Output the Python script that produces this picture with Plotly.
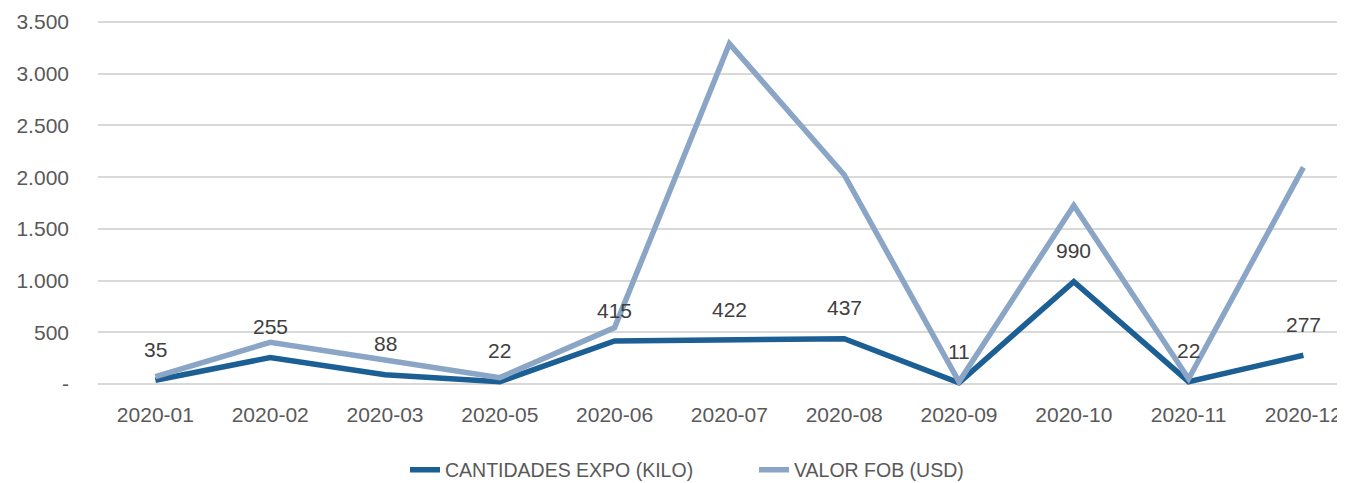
import plotly.graph_objects as go

categories = ["2020-01", "2020-02", "2020-03", "2020-05", "2020-06", "2020-07",
              "2020-08", "2020-09", "2020-10", "2020-11", "2020-12"]
cantidades_kilo = [35, 255, 88, 22, 415, 422, 437, 11, 990, 22, 277]
valor_fob_usd = [71, 403, 232, 61, 545, 3290, 2023, 20, 1726, 50, 2094]
y_tick_values = [0, 500, 1000, 1500, 2000, 2500, 3000, 3500]
y_tick_labels = ["-", "500", "1.000", "1.500", "2.000", "2.500", "3.000", "3.500"]

DARK = "#1C5F94"
LIGHT = "#8AA5C6"
FONT = "Liberation Sans, Arial, sans-serif"

# page body has an 8px default margin; the plot area runs past the right edge
# of the window, as in the reference chart
FIG_W, FIG_H = 1345, 475
plot_left = 90
band = 114.8
x_max = -0.5 + (FIG_W - plot_left) / band

fig = go.Figure()
fig.add_trace(go.Scatter(
    x=list(range(len(categories))), y=cantidades_kilo, mode="lines",
    name="CANTIDADES EXPO (KILO)", line=dict(color=DARK, width=5.5),
    hoverinfo="skip"))
fig.add_trace(go.Scatter(
    x=list(range(len(categories))), y=valor_fob_usd, mode="lines",
    name="VALOR FOB (USD)", line=dict(color=LIGHT, width=5.5),
    hoverinfo="skip"))

for i, v in enumerate(cantidades_kilo):
    fig.add_annotation(x=i, y=v, text=f"{v:,}".replace(",", "."),
                       showarrow=False, yshift=31,
                       font=dict(family=FONT, size=21, color="#404040"))

fig.update_layout(
    width=FIG_W, height=FIG_H,
    margin=dict(l=plot_left, r=0, t=12, b=97, autoexpand=False),
    paper_bgcolor="white", plot_bgcolor="white",
    font=dict(family=FONT, size=21, color="#595959"),
    showlegend=True,
    legend=dict(orientation="h", x=(397 - plot_left) / (FIG_W - plot_left),
                xanchor="left", y=-0.2295, yanchor="middle",
                entrywidth=304, entrywidthmode="pixels",
                font=dict(family=FONT, size=19.5, color="#595959"),
                itemwidth=30, bgcolor="rgba(0,0,0,0)"),
    xaxis=dict(range=[-0.5, x_max], tickmode="array",
               tickvals=list(range(len(categories))), ticktext=categories,
               showgrid=False, zeroline=False, showline=False, automargin=False,
               ticks="", ticklabelstandoff=14, ticklabeloverflow="allow",
               tickfont=dict(family=FONT, size=21, color="#595959")),
    yaxis=dict(range=[-20, 3520], tickmode="array", tickvals=y_tick_values,
               ticktext=y_tick_labels, showgrid=True, gridcolor="#D9D9D9",
               gridwidth=1.5, zeroline=False, showline=False, ticks="",
               automargin=False, ticklabelstandoff=28,
               tickfont=dict(family=FONT, size=21, color="#595959")),
)

fig.write_html("out.html")
